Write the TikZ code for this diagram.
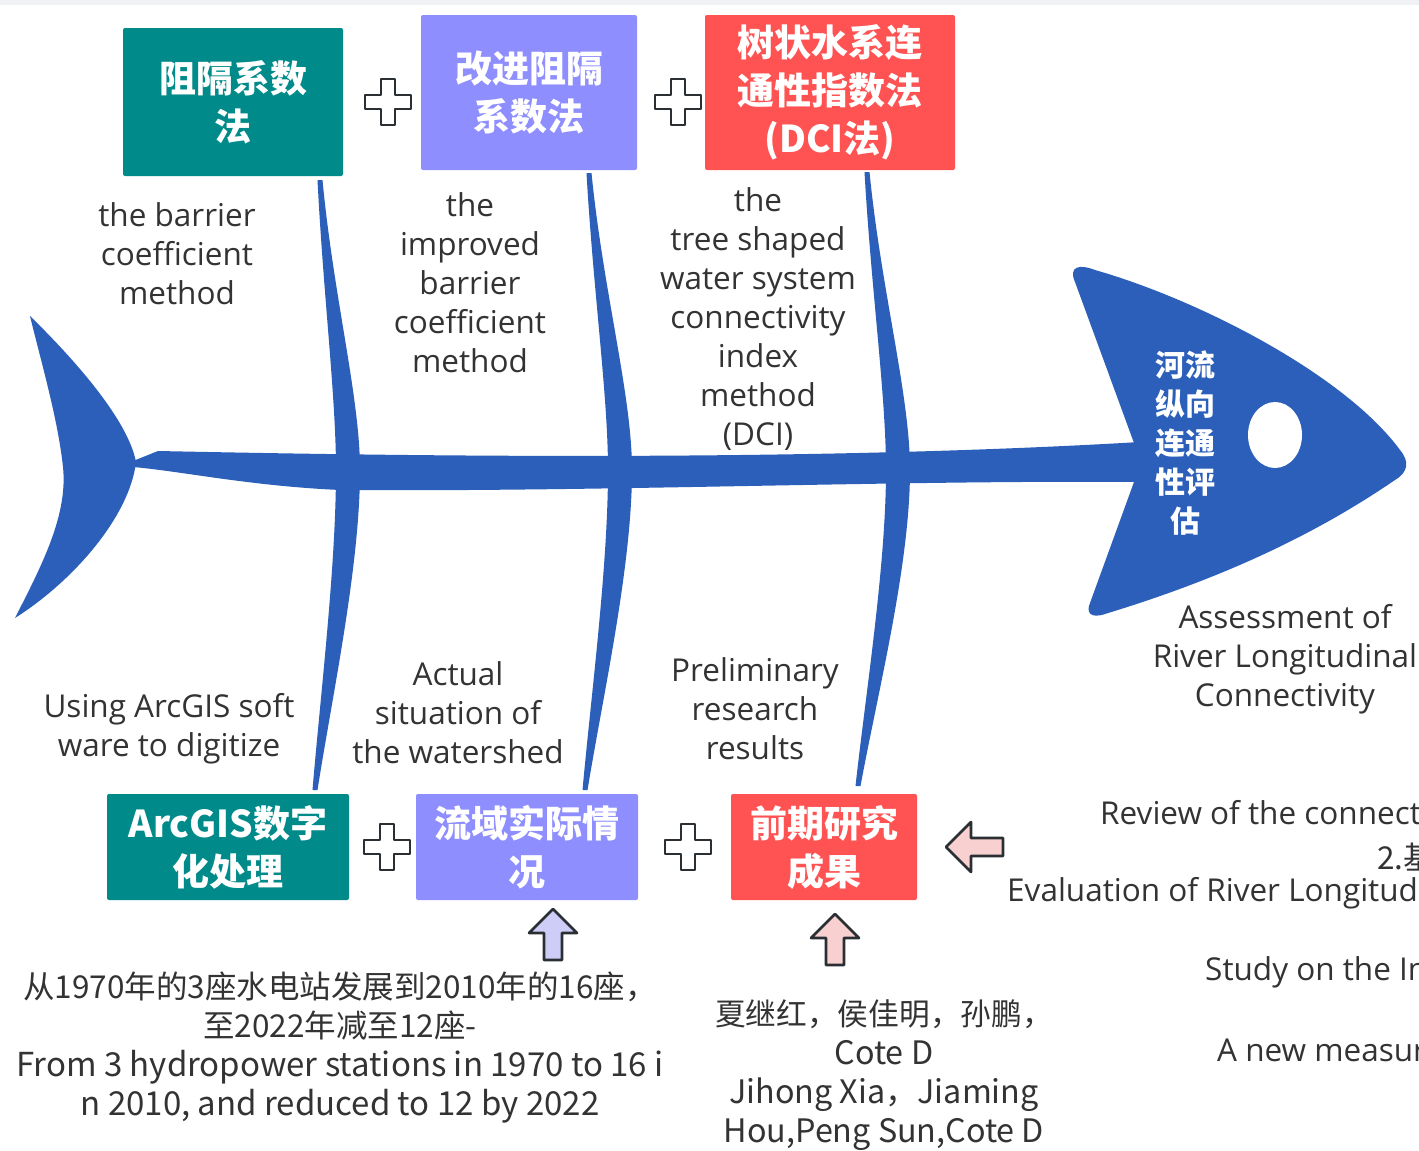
\documentclass[tikz,border=0pt]{standalone}
\usepackage{fontspec}
\setmainfont{Open Sans}
\newfontfamily\cjk{Noto Sans CJK SC}
\definecolor{fishblue}{HTML}{2B5FB9}
\definecolor{tealbox}{HTML}{008B8A}
\definecolor{purplebox}{HTML}{8E8EFF}
\definecolor{redbox}{HTML}{FF5252}
\definecolor{txtgray}{HTML}{333333}
\definecolor{topbar}{HTML}{F0F1F5}
\definecolor{pinkarrow}{HTML}{F8D0D0}
\definecolor{lilacarrow}{HTML}{CDCDF8}
\definecolor{outline}{HTML}{2A2F33}
\newcommand\engbig{\fontsize{33}{39}\selectfont}
\newcommand\engmid{\fontsize{32.3}{39}\selectfont}
\tikzset{
  lbl/.style={inner sep=0pt, align=center, text=txtgray, font=\fontsize{31.5}{39}\selectfont},
  cjklbl/.style={inner sep=0pt, align=center, text=txtgray, font=\cjk\fontsize{31.5}{39}\selectfont},
  boxtxt/.style={inner sep=0pt, align=center, text=white, font=\cjk\bfseries\fontsize{37}{48}\selectfont},
  catbox/.style={boxtxt, rounded corners=2pt, draw=none},
  symline/.style={draw=outline, line width=2.6pt, line join=round},
  plussign/.pic={\draw[symline, fill=white] (-7,-23) -- (7,-23) -- (7,-7) -- (23,-7) -- (23,7) -- (7,7) -- (7,23) -- (-7,23) -- (-7,7) -- (-23,7) -- (-23,-7) -- (-7,-7) -- cycle;},
  leftarrow/.pic={\draw[symline, fill=pinkarrow] (0,0) -- (25,-25) -- (25,-9) -- (57,-9) -- (57,9) -- (25,9) -- (25,25) -- cycle;},
  uparrow/.pic={\draw[symline, fill=#1] (0,0) -- (24,24) -- (9,24) -- (9,51) -- (-9,51) -- (-9,24) -- (-24,24) -- cycle;}
}
\newcommand\fishbone[6]{%
  \fill[fishblue] ({#1-2.5},#2) .. controls ({#1+0.3*(#3-#1)-5},{#2+0.4*(#4-#2)}) and ({#3-12},{#4-0.25*(#4-#2)}) .. ({#3-12},#4)
    .. controls ({#3-12},{#4+0.3*(#6-#4)}) and ({#5+0.35*(#3-#5)-6},{#6-0.3*(#6-#4)}) .. ({#5-2.5},#6)
    -- ({#5+2.5},#6) .. controls ({#5+0.35*(#3-#5)+6},{#6-0.3*(#6-#4)}) and ({#3+12},{#4+0.3*(#6-#4)}) .. ({#3+12},#4)
    .. controls ({#3+12},{#4-0.25*(#4-#2)}) and ({#1+0.3*(#3-#1)+5},{#2+0.4*(#4-#2)}) .. ({#1+2.5},#2) -- cycle;}
\begin{document}
\begin{tikzpicture}[x=1pt, y=-1pt]
\useasboundingbox (0,0) rectangle (1419,1151);
\clip (0,0) rectangle (1419,1151);
\fill[white] (0,0) rectangle (1419,1151);
\fill[topbar] (0,0) rectangle (1419,5);

% tail
\fill[fishblue] (30,316) .. controls (75,360) and (128,420) .. (136,462)
  .. controls (130,515) and (75,580) .. (15,618)
  .. controls (42,565) and (68,515) .. (63,467)
  .. controls (58,420) and (42,365) .. (30,316) -- cycle;
% spine
\fill[fishblue] (133,461) -- (158,451) .. controls (400,456) and (800,462) .. (1140,442)
  -- (1140,482) .. controls (900,480) and (600,492) .. (340,490)
  .. controls (250,486) and (180,471) .. (133,467) -- cycle;
% head
\fill[fishblue] (1134,443) -- (1075,282) .. controls (1068,266) and (1080,264) .. (1095,270)
  .. controls (1200,300) and (1345,375) .. (1400,450)
  .. controls (1410,462) and (1408,472) .. (1395,480)
  .. controls (1300,545) and (1200,585) .. (1105,614)
  .. controls (1090,619) and (1086,612) .. (1090,603) -- (1134,482) -- cycle;
\fill[white] (1275,435) ellipse [x radius=27, y radius=33];

% bones
\fishbone{320}{180}{348}{470}{315}{790}
\fishbone{589}{173}{620}{470}{585}{790}
\fishbone{867}{172}{898}{470}{858}{786}

% top category boxes
\node[catbox, fill=tealbox, minimum width=220pt, minimum height=148pt] (tb1) at (233,102) {阻隔系数\\法};
\node[catbox, fill=purplebox, minimum width=216pt, minimum height=155pt] (tb2) at (529,92.5) {改进阻隔\\系数法};
\node[catbox, fill=redbox, minimum width=250pt, minimum height=155pt] (tb3) at (830,92.5) {树状水系连\\通性指数法\\(DCI法)};
% bottom category boxes
\node[catbox, fill=tealbox, minimum width=242pt, minimum height=106pt] (bb1) at (228,847) {ArcGIS数字\\化处理};
\node[catbox, fill=purplebox, minimum width=222pt, minimum height=106pt] (bb2) at (527,847) {流域实际情\\况};
\node[catbox, fill=redbox, minimum width=186pt, minimum height=106pt] (bb3) at (824,847) {前期研究\\成果};

% plus signs and arrows
\pic at (388,102) {plussign};
\pic at (678,102) {plussign};
\pic at (387,847) {plussign};
\pic at (688,847) {plussign};
\pic at (946,847) {leftarrow};
\pic at (553,909) {uparrow=lilacarrow};
\pic at (835,914) {uparrow=pinkarrow};

% head label
\node[inner sep=0pt, align=center, text=white, font=\cjk\bfseries\fontsize{30}{39}\selectfont] (head) at (1185,443) {河流\\纵向\\连通\\性评\\估};

% labels
\node[lbl] (l1) at (177,254) {the barrier\\coefficient\\method};
\node[lbl] (l2) at (470,283) {the\\improved\\barrier\\coefficient\\method};
\node[lbl] (l3) at (758,319) {the\\tree shaped\\water system\\connectivity\\index\\method\\(DCI)};
\node[lbl] (l4) at (169,729) {Using ArcGIS soft\\ware to digitize};
\node[lbl] (l5) at (458,713) {Actual\\situation of\\the watershed};
\node[lbl] (l6) at (755,709) {Preliminary\\research\\results};
\node[lbl] (l7) at (1285,659) {Assessment of\\River Longitudinal\\Connectivity};

% texts cut by the right edge
\node[lbl, anchor=west] (r1) at (1100,816) {Review of the connectivity};
\node[cjklbl, anchor=west] (r2) at (1377,857) {2.基于};
\node[lbl, anchor=west] (r3) at (1007,893) {Evaluation of River Longitudinal};
\node[lbl, anchor=west] (r4) at (1205,972) {Study on the Impact};
\node[lbl, anchor=west] (r5) at (1217,1050) {A new measure};

% bottom texts
\node[cjklbl] (bt1) at (340,1048) {从1970年的3座水电站发展到2010年的16座，\\至2022年减至12座-\\{\engbig From 3 hydropower stations in 1970 to 16 i}\\{\engbig n 2010, and reduced to 12 by 2022}};
\node[cjklbl, font=\cjk\fontsize{30.7}{39}\selectfont] (bt2) at (884,1075) {夏继红，侯佳明，孙鹏，\\{\engmid Cote D}\\{\engmid Jihong Xia，Jiaming}\\{\engmid Hou,Peng Sun,Cote D}};
\end{tikzpicture}
\end{document}
